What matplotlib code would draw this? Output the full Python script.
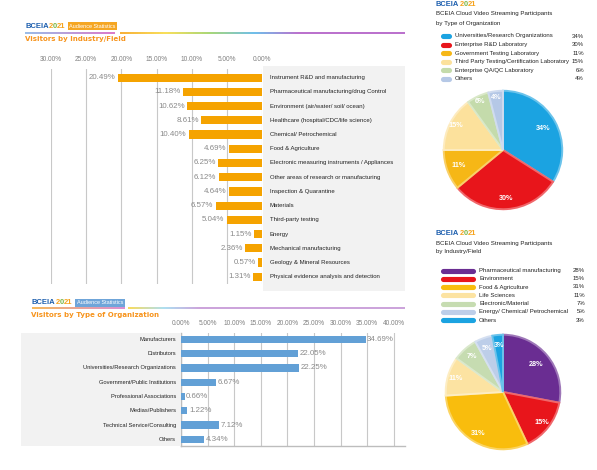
import numpy as np
import matplotlib
matplotlib.use('Agg')
import matplotlib.pyplot as plt
from matplotlib import font_manager
from matplotlib.patches import Rectangle
from matplotlib.lines import Line2D
from matplotlib.collections import LineCollection
from matplotlib.colors import LinearSegmentedColormap, to_rgb
import matplotlib.transforms as mtransforms

W, H = 597, 470

# ---- data ----
industry_labels = ['Instrument R&D and manufacturing',
                   'Pharmaceutical manufacturing/drug Control',
                   'Environment (air/water/ soil/ ocean)',
                   'Healthcare (hospital/CDC/life science)',
                   'Chemical/ Petrochemical',
                   'Food & Agriculture',
                   'Electronic measuring instruments / Appliances',
                   'Other areas of research or manufacturing',
                   'Inspection & Quarantine',
                   'Materials',
                   'Third-party testing',
                   'Energy',
                   'Mechanical manufacturing',
                   'Geology & Mineral Resources',
                   'Physical evidence analysis and detection']
industry_values = [20.49, 11.18, 10.62, 8.61, 10.40, 4.69, 6.25, 6.12,
                   4.64, 6.57, 5.04, 1.15, 2.36, 0.57, 1.31]
industry_ticks = [30, 25, 20, 15, 10, 5, 0]

org_labels = ['Manufacturers', 'Distributors',
              'Universities/Research Organizations',
              'Government/Public Institutions', 'Professional Associations',
              'Medias/Publishers', 'Technical Service/Consulting', 'Others']
org_values = [34.69, 22.05, 22.25, 6.67, 0.66, 1.22, 7.12, 4.34]
org_ticks = [0, 5, 10, 15, 20, 25, 30, 35, 40]

stream_org_labels = ['Universities/Research Organizations',
                     'Enterprise R&D Laboratory',
                     'Government Testing Laboratory',
                     'Third Party Testing/Certification Laboratory',
                     'Enterprise QA/QC Laboratory', 'Others']
stream_org_values = [34, 30, 11, 15, 6, 4]
stream_org_colors = ['#1ba3e1', '#e8151b', '#f6b716', '#fce19c', '#c4dbab', '#b5c8e6']

stream_ind_labels = ['Pharmaceutical manufacturing', 'Environment',
                     'Food & Agriculture', 'Life Sciences',
                     'Electronic/Material', 'Energy/ Chemical/ Petrochemical',
                     'Others']
stream_ind_values = [28, 15, 31, 11, 7, 5, 3]
stream_ind_colors = ['#6a2d92', '#e8151b', '#f9bd0d', '#fce3a2', '#c6dcb1', '#bdcee9', '#1ba3e1']

# ---- fonts ----
names = {f.name for f in font_manager.fontManager.ttflist}
if 'Liberation Sans Narrow' in names:
    NARROW, K = 'Liberation Sans Narrow', 1.0
else:
    NARROW, K = 'Liberation Sans', 0.82
SANS = 'Liberation Sans'

fig = plt.figure(figsize=(W / 100, H / 100), dpi=100)
fig.patch.set_facecolor('white')


def fx(x):
    return x / W


def fy(y):
    return 1 - y / H


def px_axes(x0, y0, x1, y1):
    return fig.add_axes([fx(x0), fy(y1), (x1 - x0) / W, (y1 - y0) / H])


def lighten(c, a):
    r = np.array(to_rgb(c))
    return tuple(r + (1 - r) * a)


def gradient_line(x0, x1, y, colors, lw=1.3):
    cmap = LinearSegmentedColormap.from_list('g', colors)
    xs = np.linspace(x0, x1, 80)
    segs = [[(fx(a), fy(y)), (fx(b), fy(y))] for a, b in zip(xs[:-1], xs[1:])]
    lc = LineCollection(segs, colors=cmap(np.linspace(0, 1, len(segs))),
                        linewidths=lw, transform=fig.transFigure)
    fig.add_artist(lc)


def panel(x0, y0, x1, y1):
    fig.add_artist(Rectangle((fx(x0), fy(y1)), (x1 - x0) / W, (y1 - y0) / H,
                             transform=fig.transFigure, color='#f2f2f2',
                             lw=0, zorder=-1))


def logo(x, y, size=5.5):
    r = fig.canvas.get_renderer()
    parts = [('BCEIA', '#1d5fae'), ('2', '#f6a31c'), ('0', '#7ab648'), ('21', '#f6a31c')]
    cur = fx(x)
    for s, c in parts:
        t = fig.text(cur, fy(y), s, color=c, fontsize=size, fontweight='bold',
                     family=NARROW, va='center', ha='left')
        bb = t.get_window_extent(r)
        cur = bb.x1 / fig.bbox.width


def header_box(x0, y0, x1, y1, color, text):
    fig.add_artist(Rectangle((fx(x0), fy(y1)), (x1 - x0) / W, (y1 - y0) / H,
                             transform=fig.transFigure, color=color, lw=0))
    fig.text(fx((x0 + x1) / 2), fy((y0 + y1) / 2), text, color='white',
             fontsize=4.8 * K, ha='center', va='center', family=NARROW)


# ---- top-left: visitors by industry ----
logo(25, 26)
header_box(68, 22, 117, 30, '#f5a623', 'Audience Statistics')
gradient_line(25, 115, 33, ['#8fb6e6', '#d86cc4'])
gradient_line(120, 300, 33, ['#f7a823', '#f8dc4a', '#9fd36a', '#60b8e8', '#b463c8'])
gradient_line(300, 405, 33, ['#b463c8', '#b463c8'])
fig.text(fx(25), fy(39), 'Visitors by Industry/Field', color='#f7941d',
         fontsize=5.0, fontweight='bold', family='DejaVu Sans', va='center')

panel(263, 66, 405, 291)
ax1 = px_axes(51, 69, 262, 284)
ax1.set_facecolor('none')
y1 = np.arange(len(industry_values))
ax1.barh(y1, industry_values, height=0.58, color='#f5a300', zorder=3)
ax1.set_xlim(30, 0)
ax1.set_ylim(len(industry_values) - 0.49, -0.61)
ax1.set_xticks(industry_ticks)
ax1.set_xticklabels([f'{t:.2f}%' for t in industry_ticks], family=SANS)
ax1.xaxis.tick_top()
ax1.tick_params(axis='x', length=0, pad=4.5, labelsize=4.7, labelcolor='#808080')
ax1.set_yticks([])
ax1.grid(axis='x', color='#c8c8c8', lw=0.8)
for s in ax1.spines.values():
    s.set_visible(False)
tr1 = mtransforms.blended_transform_factory(fig.transFigure, ax1.transData)
for i, (lab, v) in enumerate(zip(industry_labels, industry_values)):
    ax1.text(v + 0.35, i, f'{v:.2f}%', ha='right', va='center', fontsize=5.7,
             color='#8a8a8a', family=SANS)
    ax1.text(fx(270), i, lab, transform=tr1, ha='left', va='center',
             fontsize=5.3 * K, color='#222222', family=NARROW, clip_on=False)

# ---- bottom-left: visitors by type of organization ----
logo(32, 302)
header_box(75, 299, 125, 307, '#6fa5d9', 'Audience Statistics')
gradient_line(32, 125, 308, ['#f6b24a', '#d884cf'])
gradient_line(128, 200, 308, ['#f9d84a', '#a5dcf0', '#c79bd8'])
gradient_line(200, 405, 308, ['#c79bd8', '#c79bd8'])
fig.text(fx(31), fy(315), 'Visitors by Type of Organization', color='#f7941d',
         fontsize=5.0, fontweight='bold', family='DejaVu Sans', va='center')

panel(21, 333, 180, 446)
ax2 = px_axes(181, 333, 405, 446)
ax2.set_facecolor('none')
y2 = np.arange(len(org_values))
ax2.barh(y2, org_values, height=0.5, color='#62a0d6', zorder=3)
ax2.set_xlim(0, 42.1)
ax2.set_ylim(len(org_values) - 0.53, -0.45)
ax2.set_xticks(org_ticks)
ax2.set_xticklabels([f'{t:.2f}%' for t in org_ticks], family=SANS)
ax2.xaxis.tick_top()
ax2.tick_params(axis='x', length=0, pad=4.5, labelsize=4.7, labelcolor='#808080')
ax2.set_yticks([])
ax2.grid(axis='x', color='#c8c8c8', lw=0.8)
for k in ['top', 'right']:
    ax2.spines[k].set_visible(False)
for k in ['left', 'bottom']:
    ax2.spines[k].set_color('#bdbdbd')
    ax2.spines[k].set_linewidth(1.0)
tr2 = mtransforms.blended_transform_factory(fig.transFigure, ax2.transData)
for i, (lab, v) in enumerate(zip(org_labels, org_values)):
    ax2.text(v + 0.3, i, f'{v:.2f}%', ha='left', va='center', fontsize=5.7,
             color='#8a8a8a', family=SANS, zorder=4)
    ax2.text(fx(176), i, lab, transform=tr2, ha='right', va='center',
             fontsize=5.1 * K, color='#222222', family=NARROW, clip_on=False)


# ---- right: pies ----
def draw_pie(cx, cy, r, values, colors, label_r):
    ax = px_axes(cx - r, cy - r, cx + r, cy + r)
    wedges, _ = ax.pie(values, colors=colors, startangle=90, counterclock=False,
                       radius=1, wedgeprops=dict(linewidth=1.4))
    for w, c in zip(wedges, colors):
        w.set_edgecolor(lighten(c, 0.35))
    ax.set_xlim(-1.03, 1.03)
    ax.set_ylim(-1.03, 1.03)
    for w, v, d in zip(wedges, values, label_r):
        ang = np.deg2rad((w.theta1 + w.theta2) / 2)
        ax.text(d * np.cos(ang), d * np.sin(ang), f'{v}%', ha='center',
                va='center', color='white', fontsize=5.2, fontweight='bold',
                family=SANS)


def pie_legend(x_patch0, x_patch1, x_text, x_pct, y0, step, labels, values, colors):
    for i, (lab, v, c) in enumerate(zip(labels, values, colors)):
        y = y0 + i * step
        fig.add_artist(Line2D([fx(x_patch0 + 2.5), fx(x_patch1 - 2.5)], [fy(y), fy(y)],
                              transform=fig.transFigure, color=c, lw=3.7,
                              solid_capstyle='round'))
        fig.text(fx(x_text), fy(y), lab, fontsize=5.3 * K, family=NARROW,
                 color='#222222', va='center', ha='left')
        fig.text(fx(x_pct), fy(y), f'{v}%', fontsize=5.3 * K, family=NARROW,
                 color='#222222', va='center', ha='right')


logo(436, 5, size=5.4)
fig.text(fx(436), fy(14), 'BCEIA Cloud Video Streaming Participants',
         fontsize=5.4 * K, family=NARROW, color='#222222', va='center')
fig.text(fx(436), fy(23), 'by Type of Organization',
         fontsize=5.4 * K, family=NARROW, color='#222222', va='center')
pie_legend(440, 451, 455, 584, 36, 8.6, stream_org_labels, stream_org_values,
           stream_org_colors)
draw_pie(503, 150, 61, stream_org_values, stream_org_colors,
         [0.77, 0.82, 0.79, 0.9, 0.9, 0.9])

logo(436, 234, size=5.4)
fig.text(fx(436), fy(244), 'BCEIA Cloud Video Streaming Participants',
         fontsize=5.4 * K, family=NARROW, color='#222222', va='center')
fig.text(fx(436), fy(252), 'by Industry/Field',
         fontsize=5.4 * K, family=NARROW, color='#222222', va='center')
pie_legend(440, 475, 479, 585, 270.5, 8.25, stream_ind_labels, stream_ind_values,
           stream_ind_colors)
draw_pie(503, 392, 59, stream_ind_values, stream_ind_colors,
         [0.75, 0.86, 0.84, 0.86, 0.83, 0.81, 0.81])

fig.savefig('out.png', dpi=100)
